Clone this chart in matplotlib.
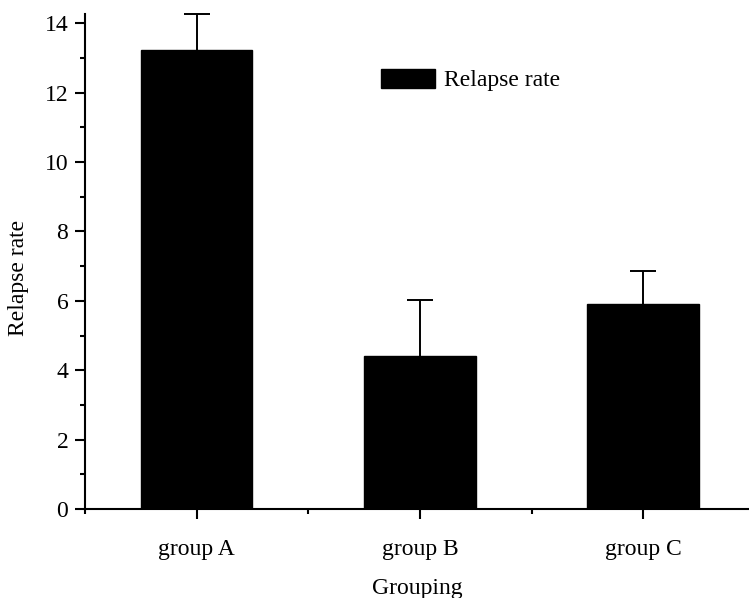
import numpy as np
import matplotlib.pyplot as plt
from matplotlib.ticker import MultipleLocator

plt.rcParams['font.family'] = ['Liberation Serif', 'DejaVu Serif']

groups = ["group A", "group B", "group C"]
rates = [13.22, 4.41, 5.92]
errors = [1.06, 1.61, 0.95]

x = np.arange(1, len(groups) + 1)

fig = plt.figure(figsize=(7.49, 5.98), dpi=100)
ax = fig.add_axes([0.1135, 0.1488, 1 - 0.1135, 0.9766 - 0.1488])

ax.bar(x, rates, width=0.5, color="black", edgecolor="black", label="Relapse rate")
eb = ax.errorbar(x, rates, yerr=[np.zeros(len(errors)), errors], fmt="none",
                 ecolor="black", elinewidth=1.4, capsize=9.5, capthick=1.4, clip_on=False)
# only keep the upper caps
eb[1][0].set_visible(False)

ax.set_xlim(0.5, 3.474)
ax.set_ylim(0, 14.27)
ax.set_xticks(x)
ax.set_xticklabels(groups)
ax.xaxis.set_minor_locator(MultipleLocator(0.5))
ax.yaxis.set_major_locator(MultipleLocator(2))
ax.yaxis.set_minor_locator(MultipleLocator(1))

for side in ["top", "right"]:
    ax.spines[side].set_visible(False)
for side in ["left", "bottom"]:
    ax.spines[side].set_linewidth(1.5)

ax.tick_params(which="major", direction="out", length=7, width=1.5, labelsize=17, pad=5)
ax.tick_params(which="minor", direction="out", length=3.5, width=1.5)
ax.tick_params(axis="x", which="major", pad=14.5)

ax.set_xlabel("Grouping", fontsize=17, labelpad=13)
ax.set_ylabel("Relapse rate", fontsize=17)
ax.yaxis.set_label_coords(-0.085, 0.467)

ax.legend(loc="center left", bbox_to_anchor=(381 / 749, 1 - 80 / 598),
          bbox_transform=fig.transFigure, frameon=False, fontsize=17,
          handlelength=2.3, handleheight=0.9, handletextpad=0.35, borderpad=0,
          borderaxespad=0)

fig.savefig("out.png", dpi=100)
